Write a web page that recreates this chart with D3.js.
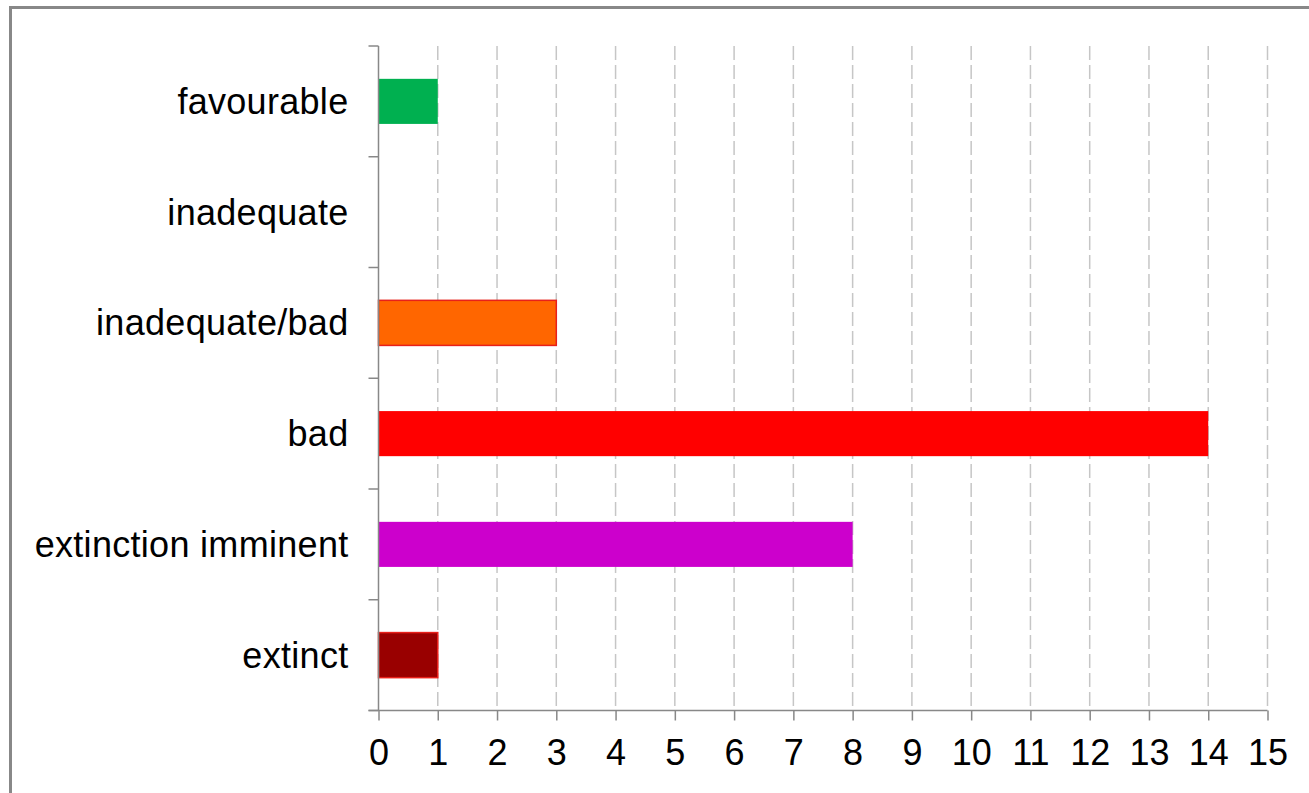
<!DOCTYPE html>
<html>
<head>
<meta charset="utf-8">
<script src="https://cdn.jsdelivr.net/npm/d3@7"></script>
<style>
  body { margin: 0; background: #fff; }
  svg { display: block; font-family: "Liberation Sans", Arial, sans-serif; }
</style>
</head>
<body>
<svg id="chart" width="1309" height="793"></svg>
<script>
// data
const categories = ["favourable", "inadequate", "inadequate/bad", "bad", "extinction imminent", "extinct"];
const values = [1, 0, 3, 14, 8, 1];
const fills = ["#00b050", "#ffffff", "#ff6600", "#ff0000", "#cc00cc", "#990000"];
const strokes = ["none", "none", "#e8201a", "none", "none", "#e8201a"];
const xTicks = d3.range(0, 16);

const svg = d3.select("#chart");

const margin = {left: 378.5, right: 1267.5, top: 46, bottom: 710.5};

// outer frame
svg.append("rect")
  .attr("x", 10.5).attr("y", 7.5)
  .attr("width", 1400).attr("height", 900)
  .attr("fill", "none")
  .attr("stroke", "#888")
  .attr("stroke-width", 3);

const x = d3.scaleLinear()
  .domain([0, 15])
  .range([margin.left, margin.right]);

const y = d3.scaleBand()
  .domain(categories)
  .range([margin.top, margin.bottom])
  .padding(0);

/** grid
------------------------------------------------------------*/
svg.append("g")
  .selectAll("line")
  .data(xTicks.filter(d => d > 0))
  .enter().append("line")
  .attr("x1", d => x(d)).attr("x2", d => x(d))
  .attr("y1", margin.top).attr("y2", margin.bottom)
  .attr("stroke", "#c6c6c6")
  .attr("stroke-width", 1.5)
  .attr("stroke-dasharray", "14 5");

/** bars
------------------------------------------------------------*/
const barFrac = 0.407;
svg.append("g")
  .selectAll("rect")
  .data(categories.map((c, i) => ({c, v: values[i], fill: fills[i], stroke: strokes[i]})))
  .enter().append("rect")
  .filter(d => d.v > 0)
  .attr("x", x(0))
  .attr("y", d => y(d.c) + y.bandwidth() * (1 - barFrac) / 2)
  .attr("width", d => x(d.v) - x(0))
  .attr("height", y.bandwidth() * barFrac)
  .attr("fill", d => d.fill)
  .attr("stroke", d => d.stroke)
  .attr("stroke-width", 1.5);

/** axes
------------------------------------------------------------*/
const axisColor = "#888";
const fontSize = 36;

const xAxis = svg.append("g")
  .attr("transform", `translate(0,${margin.bottom})`)
  .call(d3.axisBottom(x).tickValues(xTicks).tickSize(10).tickSizeOuter(0).tickPadding(19));

// y axis: ticks at band boundaries
const bounds = categories.map(c => y(c)).concat([margin.bottom]);
const yAxis = svg.append("g");
yAxis.append("line")
  .attr("x1", margin.left).attr("x2", margin.left)
  .attr("y1", margin.top).attr("y2", margin.bottom)
  .attr("stroke", axisColor).attr("stroke-width", 1.5);
yAxis.selectAll("line.tk")
  .data(bounds)
  .enter().append("line")
  .attr("class", "tk")
  .attr("x1", margin.left - 10).attr("x2", margin.left)
  .attr("y1", d => d).attr("y2", d => d)
  .attr("stroke", axisColor).attr("stroke-width", 1.5);

yAxis.selectAll("text")
  .data(categories)
  .enter().append("text")
  .attr("x", margin.left - 30)
  .attr("y", d => y(d) + y.bandwidth() / 2)
  .attr("dy", "0.35em")
  .attr("text-anchor", "end")
  .attr("font-size", fontSize)
  .attr("letter-spacing", 0.3)
  .attr("fill", "#000")
  .text(d => d);

xAxis.select(".domain")
  .attr("d", `M${margin.left - 10},0H${margin.right}`)
  .attr("stroke", axisColor).attr("stroke-width", 1.5);
xAxis.selectAll(".tick line").attr("stroke", axisColor).attr("stroke-width", 1.5);
xAxis.selectAll(".tick text")
  .attr("font-size", fontSize)
  .attr("font-family", "Liberation Sans, Arial, sans-serif")
  .attr("fill", "#000");
</script>
</body>
</html>
